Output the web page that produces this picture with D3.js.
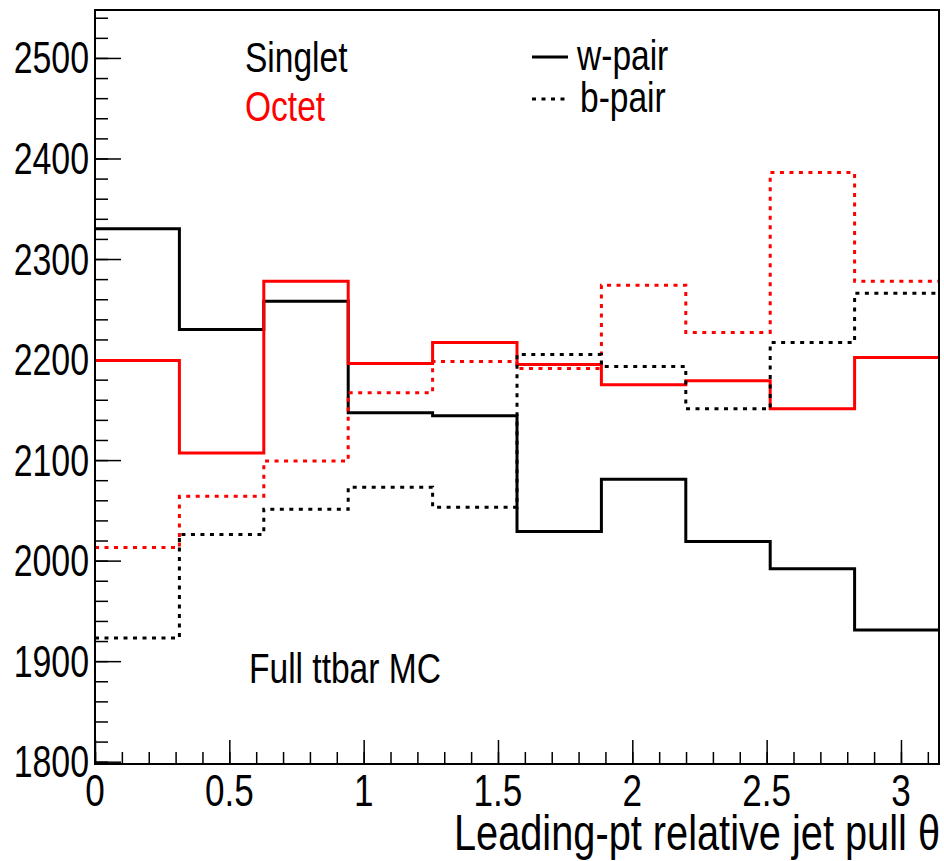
<!DOCTYPE html>
<html>
<head>
<meta charset="utf-8">
<script src="https://cdn.jsdelivr.net/npm/d3@7"></script>
<style>
  html, body { margin: 0; padding: 0; background: #fff; }
  svg { display: block; }
  text { font-family: "Liberation Sans", Arial, Helvetica, sans-serif; }
</style>
</head>
<body>
<svg id="chart" width="944" height="861"></svg>
<script>
// ---- data ----
const binEdges = [0, 0.31416, 0.62832, 0.94248, 1.25664, 1.5708, 1.88496, 2.19911, 2.51327, 2.82743, 3.14159];
const singletWpair = [2330, 2230, 2258, 2147, 2144, 2029, 2081, 2019, 1992, 1931];
const octetWpair   = [2199, 2107, 2278, 2196, 2217, 2195, 2175, 2179, 2151, 2202];
const singletBpair = [1923, 2026, 2051, 2073, 2053, 2205, 2193, 2151, 2217, 2266];
const octetBpair   = [2013, 2064, 2099, 2167, 2198, 2191, 2274, 2227, 2386, 2278];
const xTickValues = [0, 0.5, 1, 1.5, 2, 2.5, 3];
const xTickLabels = ["0", "0.5", "1", "1.5", "2", "2.5", "3"];
const yTickValues = [1800, 1900, 2000, 2100, 2200, 2300, 2400, 2500];
const yTickLabels = ["1800", "1900", "2000", "2100", "2200", "2300", "2400", "2500"];
const xMinorStep = 0.1;
const yMinorStep = 20;

// ---- layout ----
const L = 95, T = 10, R = 939, B = 764;
const svg = d3.select("#chart");
const x = d3.scaleLinear().domain([0, Math.PI]).range([L, R]);
const y = d3.scaleLinear().domain([1797.7, 2547.7]).range([B, T]);
const SX = 0.78;

// minor ticks
const xMinor = d3.range(0, Math.PI + 1e-9, xMinorStep);
const yMinor = d3.range(1800, 2547.7, yMinorStep);

const gx = svg.append("g").attr("transform", `translate(0,${B})`);
gx.call(d3.axisBottom(x).tickValues(xMinor).tickSizeInner(-12).tickSizeOuter(0).tickFormat(""));
gx.call(g => g.select(".domain").remove());
const gx2 = svg.append("g").attr("transform", `translate(0,${B})`);
gx2.call(d3.axisBottom(x).tickValues(xTickValues).tickSizeInner(-24).tickSizeOuter(0).tickFormat(""));
gx2.call(g => g.select(".domain").remove());

const gy = svg.append("g").attr("transform", `translate(${L},0)`);
gy.call(d3.axisLeft(y).tickValues(yMinor).tickSizeInner(-13).tickSizeOuter(0).tickFormat(""));
gy.call(g => g.select(".domain").remove());
const gy2 = svg.append("g").attr("transform", `translate(${L},0)`);
gy2.call(d3.axisLeft(y).tickValues(yTickValues).tickSizeInner(-26).tickSizeOuter(0).tickFormat(""));
gy2.call(g => g.select(".domain").remove());
svg.selectAll(".tick line").attr("stroke", "#000").attr("stroke-width", 1.5);

// tick labels
function label(tx, ty, str, size, anchor, color, sx) {
  svg.append("text")
    .attr("transform", `translate(${tx},${ty}) scale(${sx || SX},1)`)
    .attr("text-anchor", anchor)
    .attr("font-size", size)
    .attr("fill", color || "#000")
    .text(str);
}
xTickValues.forEach((v, i) => label(x(v), 806, xTickLabels[i], 45, "middle"));
yTickValues.forEach((v, i) => label(89, y(v) + 15.5, yTickLabels[i], 44, "end", "#000", 0.77));

// histograms
const line = d3.line().x(d => x(d[0])).y(d => y(d[1])).curve(d3.curveStepAfter);
function pts(vals) {
  const p = vals.map((v, i) => [binEdges[i], v]);
  p.push([binEdges[binEdges.length - 1], vals[vals.length - 1]]);
  return p;
}
const series = [
  { vals: singletWpair, color: "#000", dash: null },
  { vals: octetWpair, color: "#ff0000", dash: null },
  { vals: octetBpair, color: "#ff0000", dash: "4 5.5" },
  { vals: singletBpair, color: "#000", dash: "4 5.5" }
];
series.forEach(s => {
  svg.append("path")
    .attr("d", line(pts(s.vals)))
    .attr("fill", "none")
    .attr("stroke", s.color)
    .attr("stroke-width", 3)
    .attr("stroke-dasharray", s.dash);
});

// frame
svg.append("rect").attr("x", L).attr("y", T).attr("width", R - L).attr("height", B - T)
  .attr("fill", "none").attr("stroke", "#000").attr("stroke-width", 2);

// texts
label(245, 72, "Singlet", 43, "start", "#000");
label(245, 121, "Octet", 43, "start", "#ff0000");
label(249, 683, "Full ttbar MC", 43, "start", "#000");
label(940, 850, "Leading-pt relative jet pull θ", 50, "end", "#000", 0.795);

// legend
svg.append("line").attr("x1", 532).attr("x2", 568).attr("y1", 57).attr("y2", 57)
  .attr("stroke", "#000").attr("stroke-width", 3);
svg.append("line").attr("x1", 532).attr("x2", 568).attr("y1", 99).attr("y2", 99)
  .attr("stroke", "#000").attr("stroke-width", 3).attr("stroke-dasharray", "4 5.5");
label(577, 70, "w-pair", 43, "start", "#000");
label(580, 112, "b-pair", 43, "start", "#000");
</script>
</body>
</html>
